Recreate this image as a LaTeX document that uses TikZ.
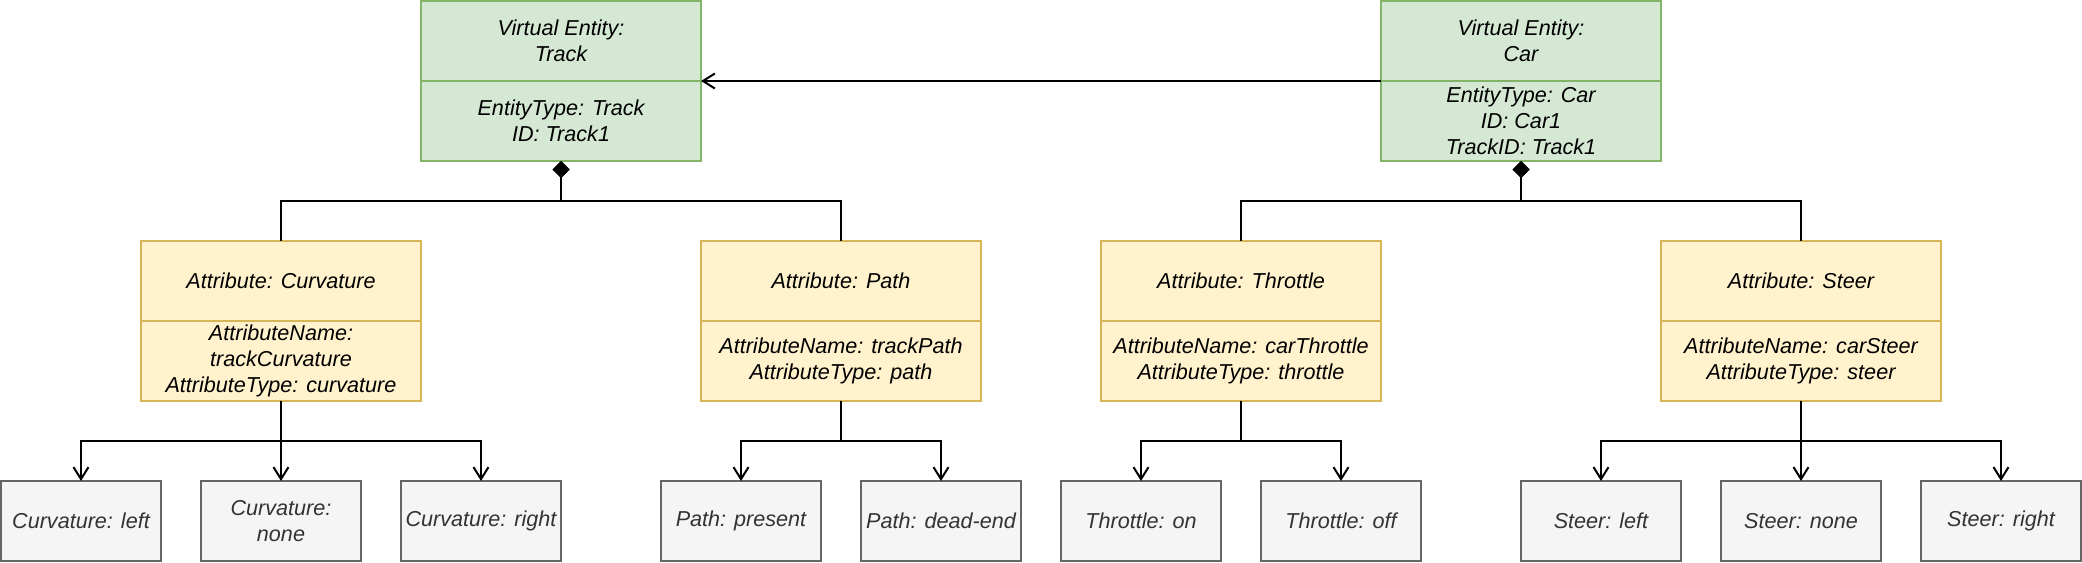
\documentclass[tikz,border=0pt]{standalone}
\usepackage{fontspec}
\setmainfont{Liberation Sans}
\usetikzlibrary{arrows.meta}
\definecolor{gfill}{HTML}{D5E8D4}
\definecolor{gline}{HTML}{82B366}
\definecolor{yfill}{HTML}{FFF2CC}
\definecolor{yline}{HTML}{D6B656}
\definecolor{lfill}{HTML}{F5F5F5}
\definecolor{lline}{HTML}{666666}
\definecolor{ltext}{HTML}{333333}
\begin{document}
\begin{tikzpicture}[x=1pt,y=-1pt,
  every node/.style={font=\fontsize{21.6}{26}\selectfont\itshape, align=center, inner sep=0pt, outer sep=0pt},
  ent/.style={draw=gline, fill=gfill, line width=1.6pt, minimum width=280pt, minimum height=80pt},
  attr/.style={draw=yline, fill=yfill, line width=1.6pt, minimum width=280pt, minimum height=80pt},
  leaf/.style={draw=lline, fill=lfill, text=ltext, line width=1.6pt, minimum width=160pt, minimum height=80pt},
  conn/.style={line width=2pt, draw=black},
  openarr/.style={-{Straight Barb[length=12pt,width=15pt,line width=2pt]}},
  comp/.style={{Diamond[length=17pt,width=17pt]}-}
]
\useasboundingbox (0,0) rectangle (2082,562);
% Entities
\node[ent] (trackT) at (561,41) {Virtual Entity:\\Track};
\node[ent] (trackB) at (561,121) {EntityType: Track\\ID: Track1};
\node[ent] (carT) at (1521,41) {Virtual Entity:\\Car};
\node[ent] (carB) at (1521,121) {EntityType: Car\\ID: Car1\\TrackID: Track1};
% Attributes
\node[attr] (curT) at (281,281) {Attribute: Curvature};
\node[attr] (curB) at (281,361) {AttributeName:\\trackCurvature\\AttributeType: curvature};
\node[attr] (pathT) at (841,281) {Attribute: Path};
\node[attr] (pathB) at (841,361) {AttributeName: trackPath\\AttributeType: path};
\node[attr] (thrT) at (1241,281) {Attribute: Throttle};
\node[attr] (thrB) at (1241,361) {AttributeName: carThrottle\\AttributeType: throttle};
\node[attr] (stT) at (1801,281) {Attribute: Steer};
\node[attr] (stB) at (1801,361) {AttributeName: carSteer\\AttributeType: steer};
% Leaves
\node[leaf] (cl) at (81,521) {Curvature: left};
\node[leaf] (cn) at (281,521) {Curvature:\\none};
\node[leaf] (cr) at (481,521) {Curvature: right};
\node[leaf] (pp) at (741,521) {Path: present};
\node[leaf] (pd) at (941,521) {Path: dead-end};
\node[leaf] (ton) at (1141,521) {Throttle: on};
\node[leaf] (toff) at (1341,521) {Throttle: off};
\node[leaf] (sl) at (1601,521) {Steer: left};
\node[leaf] (sn) at (1801,521) {Steer: none};
\node[leaf] (sr) at (2001,521) {Steer: right};
% Car -> Track
\draw[conn,openarr] (carT.south west) -- (trackT.south east);
% Composition
\draw[conn,comp] (trackB.south) -- ++(0,40) -| (curT.north);
\draw[conn,comp] (trackB.south) -- ++(0,40) -| (pathT.north);
\draw[conn,comp] (carB.south) -- ++(0,40) -| (thrT.north);
\draw[conn,comp] (carB.south) -- ++(0,40) -| (stT.north);
% Values
\foreach \a/\b in {curB/cl,curB/cn,curB/cr,pathB/pp,pathB/pd,thrB/ton,thrB/toff,stB/sl,stB/sn,stB/sr}{
  \draw[conn,openarr] (\a.south) -- ++(0,40) -| (\b.north);
}
\end{tikzpicture}
\end{document}
